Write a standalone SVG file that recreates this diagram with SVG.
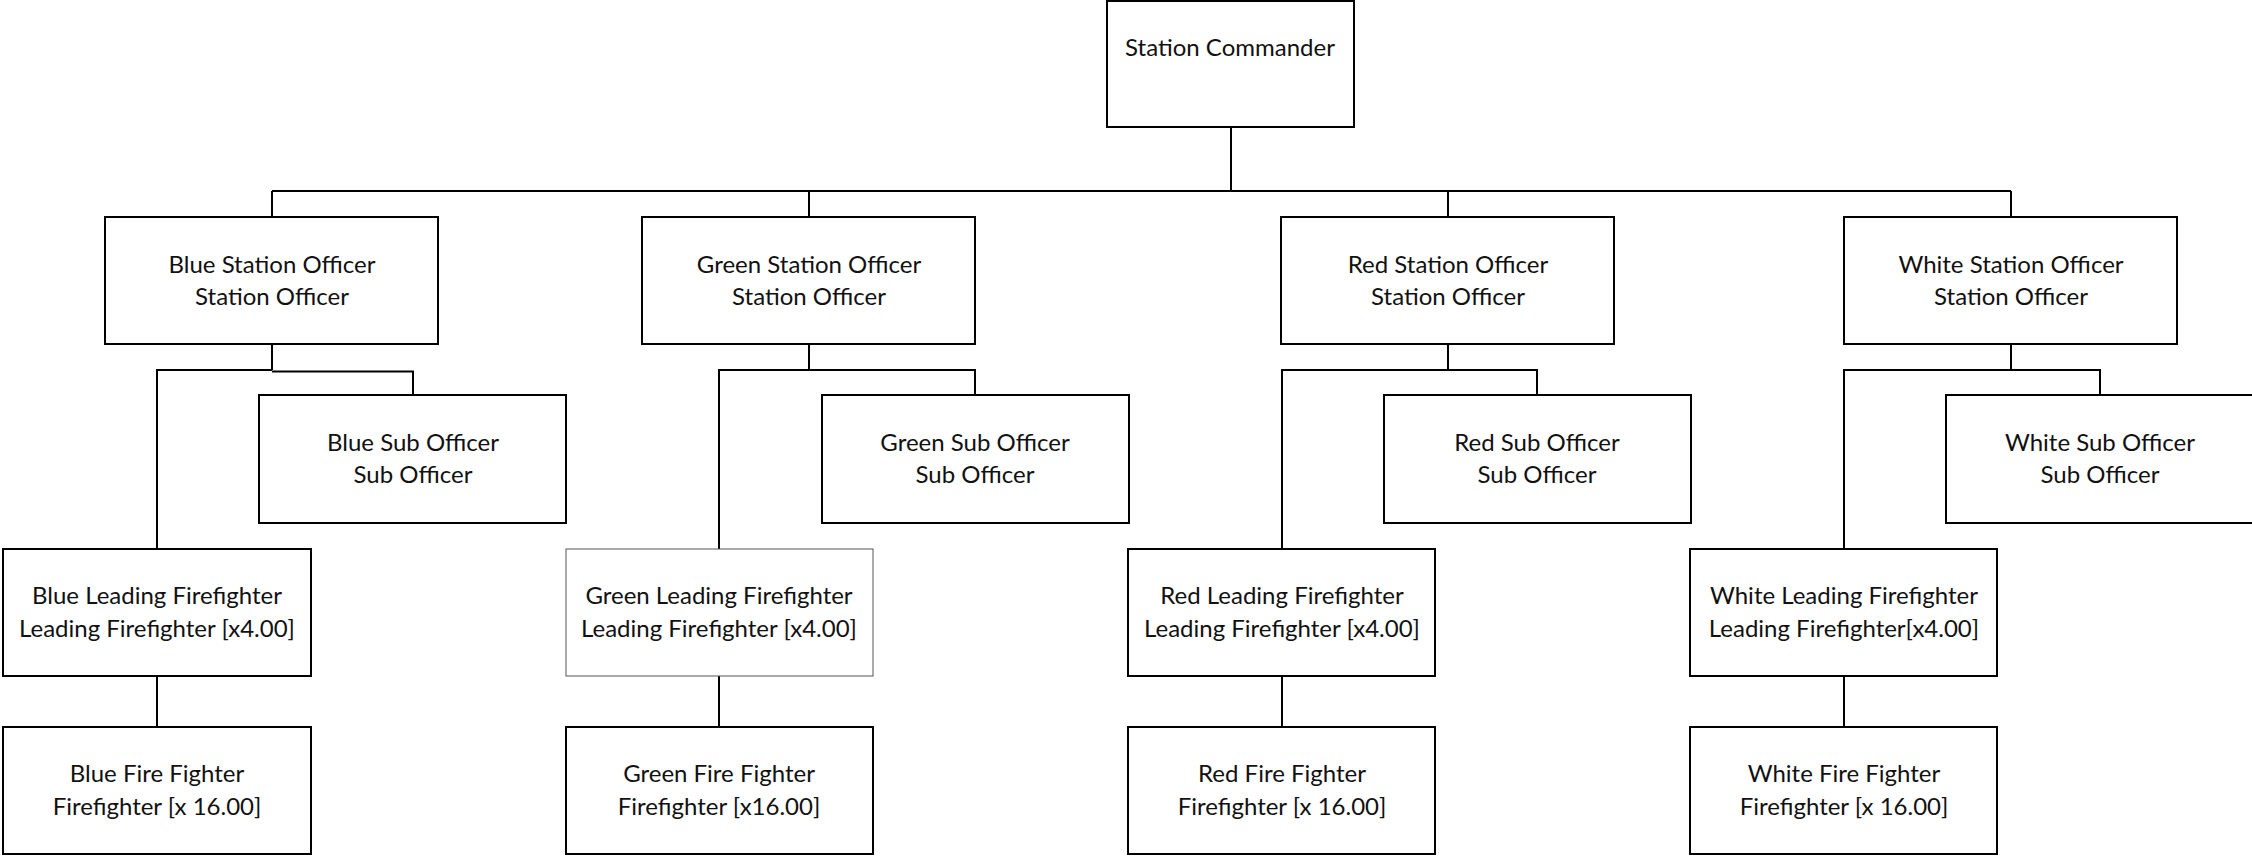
<svg xmlns="http://www.w3.org/2000/svg" width="2252" height="857" viewBox="0 0 2252 857">
<style>
.box{fill:#fff;stroke:#000;stroke-width:2}
.thin{fill:#fff;stroke:#555;stroke-width:1}
.lbl{font-family:Lato,"Liberation Sans",sans-serif;font-size:24px;fill:#111;text-anchor:middle}
.con{fill:none;stroke:#000;stroke-width:2}
</style>
<rect width="2252" height="857" fill="#fff"/>
<g id="connectors" class="con">
<path d="M1231,127 V191"/>
<path d="M272,191 H2011"/>
<path d="M272,191 V217 M809,191 V217 M1448,191 V217 M2011,191 V217"/>
<path d="M272,344 V370 M809,344 V370 M1448,344 V370 M2011,344 V370"/>
<path d="M157,549 V370 H272"/>
<path d="M272,371.5 H413 V395"/>
<path d="M719,549 V370 H975 V395"/>
<path d="M1282,549 V370 H1537 V395"/>
<path d="M1844,549 V370 H2100 V395"/>
<path d="M157,676 V727 M719,676 V727 M1282,676 V727 M1844,676 V727"/>
</g>
<g id="commander"><rect class="box" x="1107" y="1" width="247" height="126"/><text class="lbl" x="1230" y="56">Station Commander</text></g>
<g id="blue-station"><rect class="box" x="105" y="217" width="333" height="127"/><text class="lbl" x="272" y="273">Blue Station Officer</text><text class="lbl" x="272" y="305">Station Officer</text></g>
<g id="green-station"><rect class="box" x="642" y="217" width="333" height="127"/><text class="lbl" x="809" y="273">Green Station Officer</text><text class="lbl" x="809" y="305">Station Officer</text></g>
<g id="red-station"><rect class="box" x="1281" y="217" width="333" height="127"/><text class="lbl" x="1448" y="273">Red Station Officer</text><text class="lbl" x="1448" y="305">Station Officer</text></g>
<g id="white-station"><rect class="box" x="1844" y="217" width="333" height="127"/><text class="lbl" x="2011" y="273">White Station Officer</text><text class="lbl" x="2011" y="305">Station Officer</text></g>
<g id="blue-sub"><rect class="box" x="259" y="395" width="307" height="128"/><text class="lbl" x="413" y="451">Blue Sub Officer</text><text class="lbl" x="413" y="483">Sub Officer</text></g>
<g id="green-sub"><rect class="box" x="822" y="395" width="307" height="128"/><text class="lbl" x="975" y="451">Green Sub Officer</text><text class="lbl" x="975" y="483">Sub Officer</text></g>
<g id="red-sub"><rect class="box" x="1384" y="395" width="307" height="128"/><text class="lbl" x="1537" y="451">Red Sub Officer</text><text class="lbl" x="1537" y="483">Sub Officer</text></g>
<g id="white-sub"><rect class="box" x="1946" y="395" width="307" height="128"/><text class="lbl" x="2100" y="451">White Sub Officer</text><text class="lbl" x="2100" y="483">Sub Officer</text></g>
<g id="blue-leading"><rect class="box" x="3" y="549" width="308" height="127"/><text class="lbl" x="157" y="604">Blue Leading Firefighter</text><text class="lbl" x="157" y="637">Leading Firefighter [x4.00]</text></g>
<g id="green-leading"><rect class="thin" x="566" y="549" width="307" height="127"/><text class="lbl" x="719" y="604">Green Leading Firefighter</text><text class="lbl" x="719" y="637">Leading Firefighter [x4.00]</text></g>
<g id="red-leading"><rect class="box" x="1128" y="549" width="307" height="127"/><text class="lbl" x="1282" y="604">Red Leading Firefighter</text><text class="lbl" x="1282" y="637">Leading Firefighter [x4.00]</text></g>
<g id="white-leading"><rect class="box" x="1690" y="549" width="307" height="127"/><text class="lbl" x="1844" y="604">White Leading Firefighter</text><text class="lbl" x="1844" y="637">Leading Firefighter[x4.00]</text></g>
<g id="blue-fire"><rect class="box" x="3" y="727" width="308" height="127"/><text class="lbl" x="157" y="782">Blue Fire Fighter</text><text class="lbl" x="157" y="815">Firefighter [x 16.00]</text></g>
<g id="green-fire"><rect class="box" x="566" y="727" width="307" height="127"/><text class="lbl" x="719" y="782">Green Fire Fighter</text><text class="lbl" x="719" y="815">Firefighter [x16.00]</text></g>
<g id="red-fire"><rect class="box" x="1128" y="727" width="307" height="127"/><text class="lbl" x="1282" y="782">Red Fire Fighter</text><text class="lbl" x="1282" y="815">Firefighter [x 16.00]</text></g>
<g id="white-fire"><rect class="box" x="1690" y="727" width="307" height="127"/><text class="lbl" x="1844" y="782">White Fire Fighter</text><text class="lbl" x="1844" y="815">Firefighter [x 16.00]</text></g>
</svg>
